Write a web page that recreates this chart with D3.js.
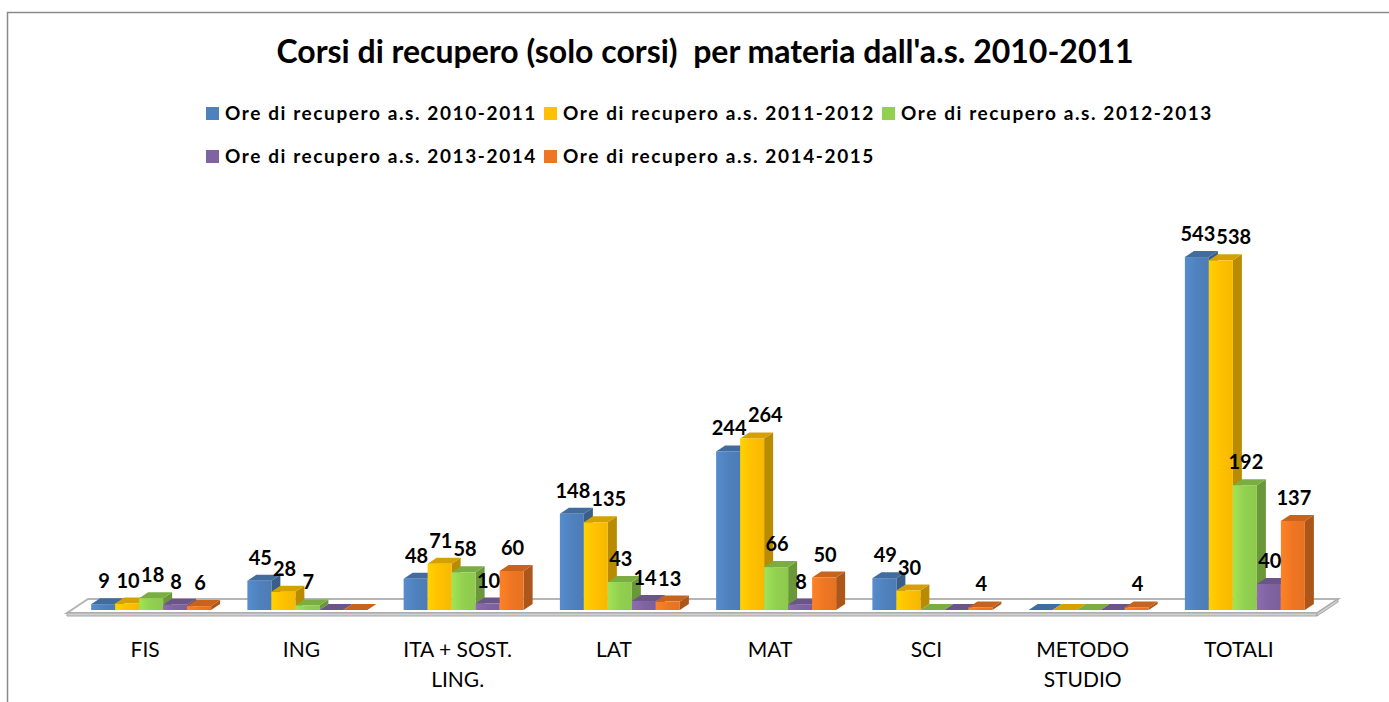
<!DOCTYPE html>
<html>
<head>
<meta charset="utf-8">
<script src="https://cdn.jsdelivr.net/npm/d3@7"></script>
<style>
  body { margin: 0; background: #fff; }
  text { font-family: Lato, "Open Sans", sans-serif; fill: #000; }
</style>
</head>
<body>
<svg width="1389" height="702"></svg>
<script>
// dati
var categories = ["FIS", "ING", "ITA + SOST. LING.", "LAT", "MAT", "SCI", "METODO STUDIO", "TOTALI"];
var seriesNames = [
  "Ore di recupero a.s. 2010-2011",
  "Ore di recupero a.s. 2011-2012",
  "Ore di recupero a.s. 2012-2013",
  "Ore di recupero a.s. 2013-2014",
  "Ore di recupero a.s. 2014-2015"
];
var ore2010 = [9, 45, 48, 148, 244, 49, 0, 543];
var ore2011 = [10, 28, 71, 135, 264, 30, 0, 538];
var ore2012 = [18, 7, 58, 43, 66, 0, 0, 192];
var ore2013 = [8, 0, 10, 14, 8, 0, 0, 40];
var ore2014 = [6, 0, 60, 13, 50, 4, 4, 137];
var colors = ["#4f81bd", "#ffc000", "#92d050", "#8064a2", "#ee7623"];

var values = [ore2010, ore2011, ore2012, ore2013, ore2014];

var svg = d3.select("svg");

// bordo del grafico
svg.append("rect")
    .attr("x", 7.5).attr("y", 12.5)
    .attr("width", 1400).attr("height", 720)
    .attr("fill", "#fff")
    .attr("stroke", "#8a8a8a")
    .attr("stroke-width", 1.5);

// titolo
svg.append("text")
    .attr("x", 705).attr("y", 63)
    .attr("text-anchor", "middle")
    .style("white-space", "pre")
    .style("font-size", "32px")
    .style("font-weight", "bold")
    .text("Corsi di recupero (solo corsi)  per materia dall'a.s. 2010-2011");

// legenda
var legend = svg.append("g");
var item = legend.selectAll("g")
    .data(seriesNames)
  .enter().append("g")
    .attr("transform", function(d, i) {
      return "translate(" + (206 + (i % 3) * 338) + "," + (107 + Math.floor(i / 3) * 43) + ")";
    });
item.append("rect")
    .attr("width", 13).attr("height", 13)
    .attr("fill", function(d, i) { return colors[i]; });
item.append("text")
    .attr("x", 19).attr("y", 13)
    .style("font-size", "19px")
    .style("font-weight", "bold")
    .style("letter-spacing", "1.6px")
    .text(function(d) { return d; });

// scale
var x = d3.scaleBand().domain(categories).range([67, 1317]).padding(0);
var xs = d3.scaleBand().domain(d3.range(seriesNames.length)).range([0, 120]).padding(0);
var y = d3.scaleLinear().domain([0, 600]).range([610, 220]);
var dx = 9, dy = -6; // profondità 3D
var shift = x.bandwidth() / 2 - 60 + 6;

// pavimento 3D
var fx0 = x.range()[0], fx1 = x.range()[1];
var floor = svg.append("g");
floor.append("polygon")
    .attr("points", [[fx0, 613], [fx1, 613], [fx1 + 21, 599], [fx0 + 21, 599]].join(" "))
    .attr("fill", "#fff")
    .attr("stroke", "#b5b5b5")
    .attr("stroke-width", 2);
floor.append("polygon")
    .attr("points", [[fx0, 613], [fx1, 613], [fx1, 616], [fx0, 616]].join(" "))
    .attr("fill", "#d0d0d0")
    .attr("stroke", "#a5a5a5")
    .attr("stroke-width", 1);
floor.append("polygon")
    .attr("points", [[fx1, 613], [fx1 + 21, 599], [fx1 + 21, 602], [fx1, 616]].join(" "))
    .attr("fill", "#d0d0d0")
    .attr("stroke", "#a5a5a5")
    .attr("stroke-width", 1);

// gradienti per la faccia frontale
var defs = svg.append("defs");
colors.forEach(function(c, i) {
  var g = defs.append("linearGradient").attr("id", "grad" + i)
      .attr("x1", 0).attr("x2", 1).attr("y1", 0).attr("y2", 0);
  g.append("stop").attr("offset", "0%").attr("stop-color", d3.color(c).brighter(0.25));
  g.append("stop").attr("offset", "50%").attr("stop-color", c);
  g.append("stop").attr("offset", "100%").attr("stop-color", d3.color(c).darker(0.1));
});

// barre
var bars = [];
categories.forEach(function(cat, ci) {
  values.forEach(function(serie, si) {
    bars.push({cat: cat, s: si, v: serie[ci]});
  });
});

var bw = xs.bandwidth();
var g = svg.append("g");
var bar = g.selectAll(".bar")
    .data(bars)
  .enter().append("g")
    .attr("class", "bar");

function px(d) { return x(d.cat) + shift + xs(d.s); }

bar.append("polygon") // lato destro
    .attr("points", function(d) {
      var x0 = px(d) + bw, yt = y(d.v), yb = y(0);
      return [[x0, yb], [x0, yt], [x0 + dx, yt + dy], [x0 + dx, yb + dy]].join(" ");
    })
    .attr("fill", function(d) { return d3.color(colors[d.s]).darker(0.9); });

bar.append("polygon") // faccia superiore
    .attr("points", function(d) {
      var x0 = px(d), yt = y(d.v);
      return [[x0, yt], [x0 + bw, yt], [x0 + bw + dx, yt + dy], [x0 + dx, yt + dy]].join(" ");
    })
    .attr("fill", function(d) { return d3.color(colors[d.s]).darker(0.5); });

bar.append("rect") // faccia frontale
    .attr("x", function(d) { return px(d); })
    .attr("y", function(d) { return y(d.v); })
    .attr("width", bw)
    .attr("height", function(d) { return y(0) - y(d.v); })
    .attr("fill", function(d) { return "url(#grad" + d.s + ")"; });

// etichette dei valori
var labels = g.selectAll(".val")
    .data(bars.filter(function(d) { return d.v > 0; }))
  .enter().append("text")
    .attr("class", "val")
    .attr("x", function(d) { return px(d) + bw / 2 + 1; })
    .attr("y", function(d) { return y(d.v) - 16; })
    .attr("text-anchor", "middle")
    .style("font-size", "20px")
    .style("font-weight", "bold")
    .text(function(d) { return d.v; });

// sposta a destra le etichette che si sovrappongono alla precedente
var prev = null;
labels.each(function(d) {
  var node = this, b = node.getBBox();
  if (prev && prev.d.cat === d.cat) {
    var overlapX = prev.b.x + prev.b.width + 1 - b.x;
    var overlapY = !(b.y > prev.b.y + prev.b.height - 4 || prev.b.y > b.y + b.height - 4);
    if (overlapX > 0 && overlapY) {
      d3.select(node).attr("x", +d3.select(node).attr("x") + overlapX);
      b = node.getBBox();
    }
  }
  prev = {d: d, b: b};
});

// asse delle categorie
var axis = svg.append("g")
    .attr("transform", "translate(0,630)")
    .call(d3.axisBottom(x).tickSize(0));
axis.select(".domain").remove();
axis.selectAll(".tick text")
    .attr("y", 27)
    .attr("dy", 0)
    .style("font-family", "Lato, sans-serif")
    .style("font-size", "21px")
    .style("fill", "#000")
    .call(wrap, x.bandwidth() - 10);

function wrap(text, width) {
  text.each(function() {
    var t = d3.select(this),
        words = t.text().split(/\s+/),
        line = [],
        tspan = t.text(null).append("tspan").attr("x", 0).attr("y", 27);
    words.forEach(function(w) {
      line.push(w);
      tspan.text(line.join(" "));
      if (tspan.node().getComputedTextLength() > width && line.length > 1) {
        line.pop();
        tspan.text(line.join(" "));
        line = [w];
        tspan = t.append("tspan").attr("x", 0).attr("dy", 30).text(w);
      }
    });
  });
}
</script>
</body>
</html>
